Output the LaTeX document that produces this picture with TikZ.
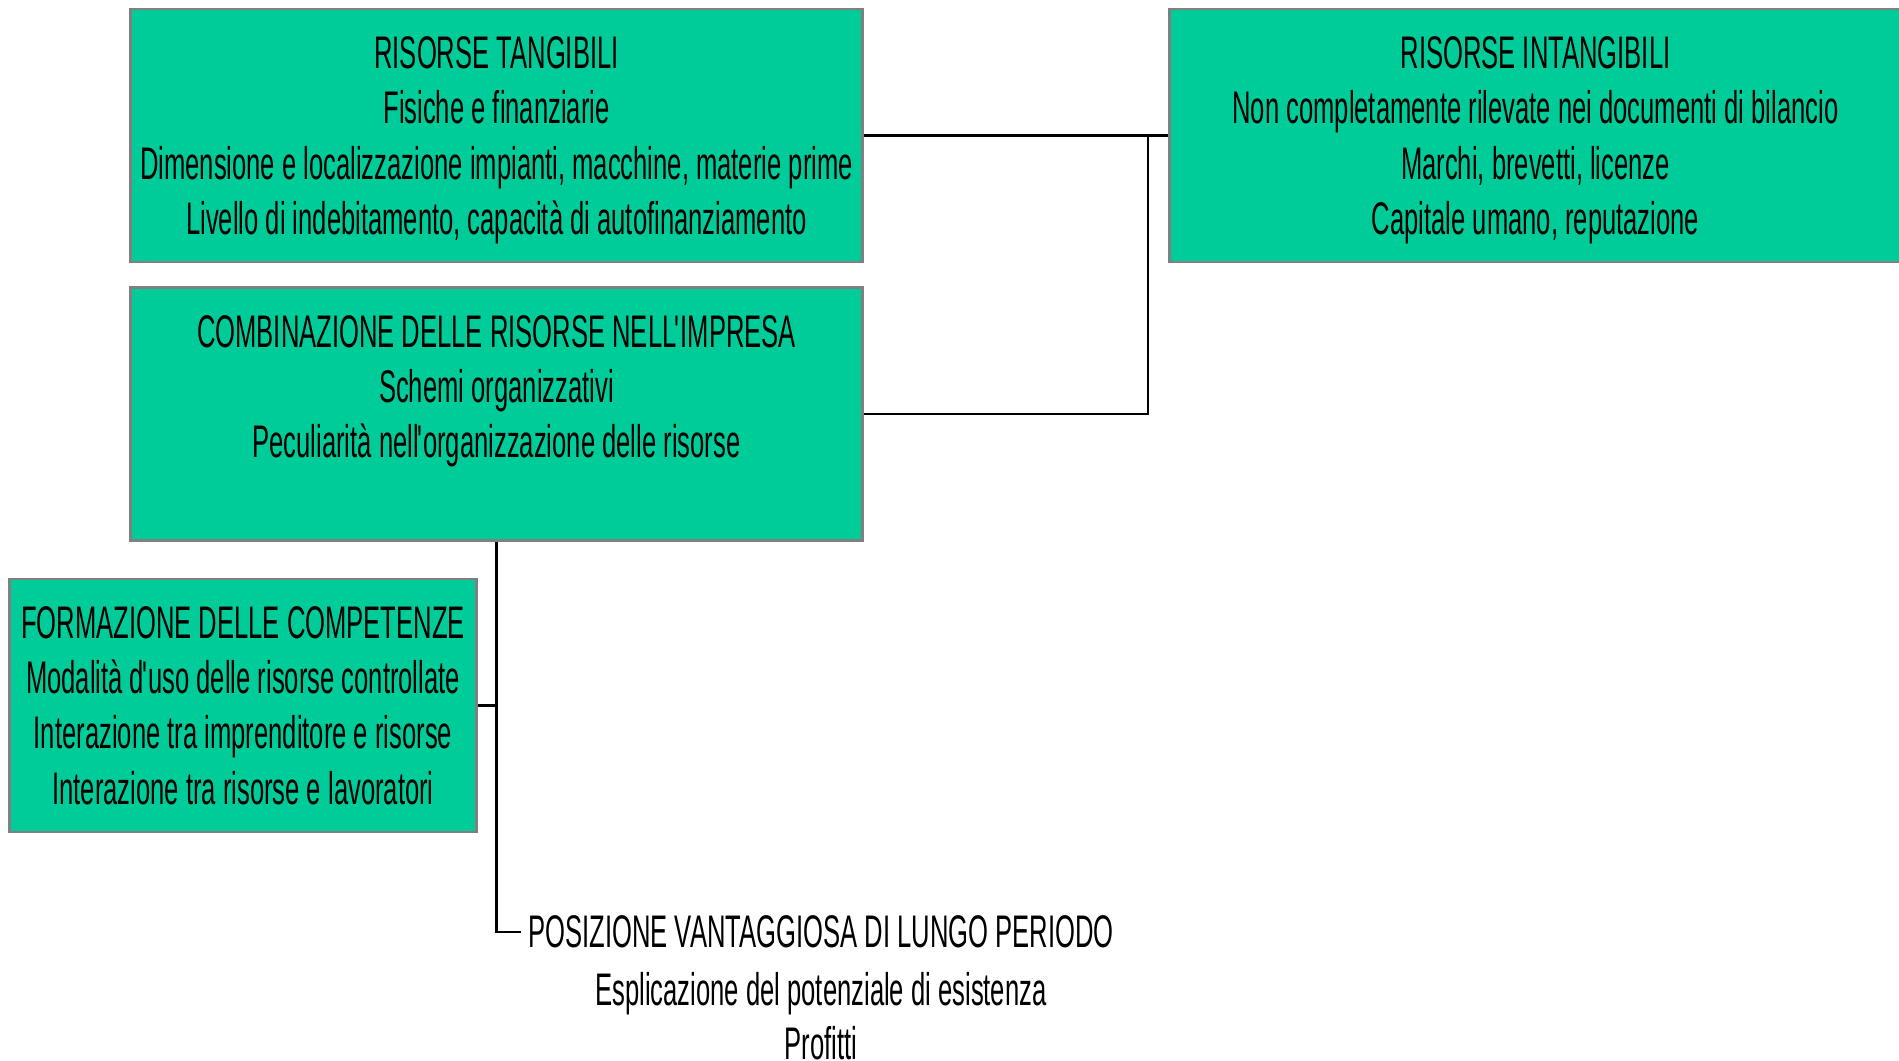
\documentclass[tikz,border=0pt]{standalone}
\usepackage{fontspec}
\setmainfont{Liberation Sans}[FakeStretch=0.56]
\usepackage{tikz}

\definecolor{verdeacqua}{RGB}{0,204,153}
\definecolor{bordo}{RGB}{128,128,128}

% ultima riga senza discendenti
\newcommand{\senzacoda}[1]{\raisebox{0pt}[\height][0pt]{#1}}
\newcommand{\apo}{\kern-0.04em\textquotesingle\kern-0.06em}

\tikzset{
  risorsa/.style={draw=bordo, line width=0.8pt, fill=verdeacqua, rectangle,
    minimum width=7.31cm, minimum height=2.53cm, align=center, inner sep=0pt,
    font=\fontsize{13}{15.7}\selectfont},
  testo/.style={align=center, inner sep=2pt, font=\fontsize{13}{15.7}\selectfont},
  filo/.style={line width=0.8pt}
}

\begin{document}
\begin{tikzpicture}[x=0.01cm,y=-0.01cm]

\useasboundingbox (0,0) rectangle (1899,1060);

\node [risorsa] (tang) at (496.5,135.5) {RISORSE TANGIBILI\\Fisiche e finanziarie\\Dimensione e localizzazione impianti, macchine, materie prime\\\senzacoda{Livello di indebitamento, capacità di autofinanziamento}};
\node [risorsa] (intang) at (1535.5,135.5) {RISORSE INTANGIBILI\\Non completamente rilevate nei documenti di bilancio\\Marchi, brevetti, licenze\\\senzacoda{Capitale umano, reputazione}};

\node [risorsa] (comb) at (496.5,414) {COMBINAZIONE DELLE RISORSE NELL\apo IMPRESA\\Schemi organizzativi\\Peculiarità nell\apo organizzazione delle risorse\\~};

\node [risorsa, minimum width=4.66cm] (form) at (243,705.5) {FORMAZIONE DELLE COMPETENZE\\Modalità d\apo uso delle risorse controllate\\Interazione tra imprenditore e risorse\\Interazione tra risorse e lavoratori};

\node [testo] (pos) at (821,932) {POSIZIONE VANTAGGIOSA DI LUNGO PERIODO};
\node [testo] (pos1) at (821,994) {Esplicazione del potenziale di esistenza};
\node [testo] (pos2) at (821,1043) {Profitti};

%\draw[filo] (tang.east) -- (intang.west);
\coordinate (nodo) at (1148,135.5);
\draw[filo] (tang.east) -- (intang.west);
\draw[filo] (comb.east) -| (nodo);

\draw[filo] (comb.south) |- (pos.west);
\draw[filo] (form.east) -- (form.east -| comb.south);

\end{tikzpicture}
\end{document}
